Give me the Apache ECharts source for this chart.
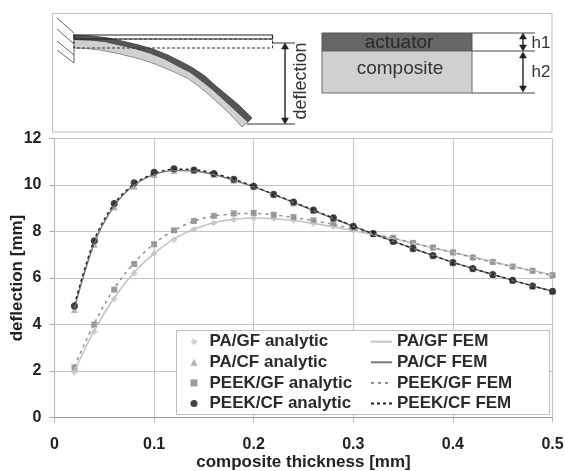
<!DOCTYPE html>
<html><head><meta charset="utf-8">
<style>html,body{margin:0;padding:0;background:#fff}#c{width:565px;height:471px}</style>
<script src="https://cdn.jsdelivr.net/npm/echarts@6/dist/echarts.min.js"></script>
</head><body><div id="c"></div>
<script>
const thickness = [0.02,0.04,0.06,0.08,0.10,0.12,0.14,0.16,0.18,0.20,0.22,0.24,0.26,0.28,0.30,0.32,0.34,0.36,0.38,0.40,0.42,0.44,0.46,0.48,0.50];
const paGfAnalytic   = [1.95,3.7,5.1,6.2,7.05,7.65,8.1,8.37,8.52,8.58,8.56,8.48,8.36,8.2,8.05,7.87,7.7,7.5,7.3,7.1,6.88,6.69,6.49,6.31,6.1];
const paCfAnalytic   = [4.65,7.45,9.05,9.95,10.45,10.62,10.62,10.45,10.2,9.92,9.58,9.23,8.9,8.55,8.2,7.9,7.57,7.26,6.96,6.66,6.4,6.14,5.89,5.65,5.42];
const peekGfAnalytic = [2.15,4.0,5.5,6.6,7.45,8.05,8.45,8.67,8.78,8.8,8.72,8.62,8.48,8.32,8.12,7.9,7.73,7.51,7.31,7.1,6.88,6.69,6.49,6.31,6.12];
const peekCfAnalytic = [4.8,7.6,9.2,10.1,10.55,10.7,10.65,10.5,10.25,9.95,9.6,9.27,8.92,8.59,8.23,7.91,7.58,7.27,6.97,6.67,6.41,6.15,5.9,5.66,5.43];
const paGfFem   = [2.0,3.75,5.15,6.25,7.05,7.68,8.1,8.38,8.52,8.58,8.55,8.47,8.35,8.2,8.03,7.87,7.7,7.5,7.3,7.1,6.9,6.7,6.5,6.32,6.12];
const paCfFem   = [4.7,7.5,9.1,10.0,10.45,10.62,10.6,10.45,10.2,9.92,9.6,9.25,8.9,8.56,8.22,7.9,7.58,7.27,6.97,6.67,6.41,6.15,5.9,5.66,5.43];
const peekGfFem = [2.2,4.05,5.55,6.65,7.48,8.05,8.45,8.66,8.76,8.78,8.72,8.6,8.47,8.3,8.1,7.9,7.72,7.5,7.3,7.1,6.88,6.68,6.49,6.3,6.1];
const peekCfFem = [4.85,7.65,9.2,10.05,10.5,10.68,10.66,10.5,10.25,9.95,9.6,9.27,8.92,8.58,8.23,7.9,7.58,7.27,6.97,6.67,6.41,6.15,5.9,5.66,5.43];
const pair = ys => ys.map((y,i)=>[thickness[i],y]);

const FONT = '"Liberation Sans", Arial, sans-serif';
const scatter = (name,ys,symbol,size,color)=>({name,type:'scatter',data:pair(ys),symbol,symbolSize:size,z:3,itemStyle:{color}});
const line = (name,ys,color,type,width)=>({name,type:'line',data:pair(ys),symbol:'none',showSymbol:false,smooth:0.3,z:4,
  itemStyle:{color},lineStyle:{color,type,width}});

const seriesList = [
  scatter('PA/GF analytic',paGfAnalytic,'diamond',7,'#c6c6c6'),
  scatter('PA/CF analytic',paCfAnalytic,'triangle',7,'#a0a0a0'),
  scatter('PEEK/GF analytic',peekGfAnalytic,'rect',6,'#858585'),
  scatter('PEEK/CF analytic',peekCfAnalytic,'circle',7,'#111111'),
  line('PA/GF FEM',paGfFem,'#c4c4c4','solid',1.6),
  line('PA/CF FEM',paCfFem,'#777777','solid',1.4),
  line('PEEK/GF FEM',peekGfFem,'#909090',[3,4],1.5),
  line('PEEK/CF FEM',peekCfFem,'#222222',[3,3],1.4)
];
const legendText = {fontFamily:FONT,fontWeight:'bold',fontSize:17,lineHeight:17,color:'#2a2a2a'};
const legendBase = {orient:'vertical',top:333.2,itemGap:3.6,z:8,padding:0,selectedMode:false};

const L = (x1,y1,x2,y2,stroke='#333',lineWidth=1,lineDash)=>({type:'line',silent:true,z:10,
  shape:{x1,y1,x2,y2},style:{stroke,lineWidth,lineDash}});
const poly = (points,fill,stroke,lineWidth=1)=>({type:'polygon',silent:true,z:10,shape:{points},style:{fill,stroke,lineWidth}});
const R = (x,y,width,height,fill,stroke,lineWidth=1,lineDash,z=10)=>({type:'rect',silent:true,z,shape:{x,y,width,height},style:{fill,stroke,lineWidth,lineDash}});
const T = (x,y,text,opts={})=>({type:'text',silent:true,z:11,x,y,rotation:opts.rotation||0,
  style:{text,fontFamily:FONT,fontSize:opts.size||19,fill:opts.fill||'#333',align:opts.align||'left',verticalAlign:'middle'}});
const head = (x,y,dir)=>poly([[x-3.5,y-dir*6],[x+3.5,y-dir*6],[x,y]],'#222','#222',0.5);
const arrow = (x,y1,y2)=>[L(x,y1+3,x,y2-3,'#222',1.4),head(x,y1,-1),head(x,y2,1)];

const top_ = [[74,35],[90,35.8],[107,37.7],[122,41],[138,44.8],[153,49],[168,55],[182,62],[193,68],[205,76],[216,86],[227,95],[240,106],[252,118]];
const mid_ = [[74,39.5],[90,40],[105,41.5],[120,45],[135,48.5],[150,53],[165,59],[178,66],[190,72],[202,81],[212,89],[222,98],[235,110],[248,122]];
const bot_ = [[74,48],[87,48.5],[100,50],[120,54],[140,59],[155,64],[172,71],[187,78],[197,85],[207,93],[217,102],[230,114],[242,127]];
const schematic = [
  R(52.5,13.5,499.5,118.5,'#fff','#bdbdbd',1),
  ...[[57,18,74,33],[57,29,74,44],[57,41,74,55],[57,50,74,63]].map(a=>L(a[0],a[1],a[2],a[3],'#666',1)),
  L(74,34,74,63,'#666',1),
  poly([...mid_,...bot_.slice().reverse()],'#d0d0d0','#777',0.8),
  poly([...top_,...mid_.slice().reverse()],'#555555','#444',0.8),
  R(74,35,198.5,4,'none','#222',1.2),
  R(74,39,198.5,9,'none','#333',1,[3,2]),
  L(272,43,295,43,'#333',1),
  L(247,124,295,124,'#333',1),
  ...arrow(285,43,124),
  T(301,81,'deflection',{rotation:Math.PI/2,align:'center',size:18}),
  R(322,33,150,18,'#666666','#555',1),
  R(322,51,150,42,'#d0d0d0','#666',1),
  L(472,33,535,33,'#444',1),L(472,51,535,51,'#444',1),L(472,93,535,93,'#444',1),
  ...arrow(523,33,51),...arrow(523,52,92),
  T(399,42.7,'actuator',{align:'center',fill:'#2a2a2a'}),
  T(400,69,'composite',{align:'center'}),
  T(531.5,43,'h1',{size:17}),T(531.5,72,'h2',{size:17})
];
const chart = echarts.init(document.getElementById('c'),null,{renderer:'canvas'});
chart.setOption({
  animation:false,backgroundColor:'#fff',
  grid:{left:54.5,right:12.5,top:138.5,bottom:53.5,outerBoundsMode:'none'},
  xAxis:{type:'value',min:0,max:0.5,interval:0.1,
    name:'composite thickness [mm]',nameLocation:'middle',nameGap:44.5,nameMoveOverlap:false,
    nameTextStyle:{fontFamily:FONT,fontWeight:'bold',fontSize:17,color:'#222',verticalAlign:'middle'},
    axisLine:{onZero:false,lineStyle:{color:'#999'}},
    axisTick:{show:true,length:5,lineStyle:{color:'#bbb'}},
    axisLabel:{margin:19,fontFamily:FONT,fontWeight:'bold',fontSize:16,color:'#222',showMaxLabel:true,showMinLabel:true},
    splitLine:{show:true,lineStyle:{color:'#c8c8c8',width:1.2}}},
  yAxis:{type:'value',min:0,max:12,interval:2,
    name:'deflection [mm]',nameLocation:'middle',nameGap:37.5,nameMoveOverlap:false,
    nameTextStyle:{fontFamily:FONT,fontWeight:'bold',fontSize:17,color:'#222',verticalAlign:'middle'},
    axisLine:{show:true,lineStyle:{color:'#bbb'}},
    axisTick:{show:true,length:5,lineStyle:{color:'#aaa'}},
    axisLabel:{margin:13,fontFamily:FONT,fontWeight:'bold',fontSize:16,color:'#222'},
    splitLine:{show:true,lineStyle:{color:'#c4c4c4',width:1.2}}},
  legend:[
    {...legendBase,left:190.5,itemWidth:7,itemHeight:7,textStyle:{...legendText,padding:[0,0,0,7]},data:seriesList.slice(0,4).map(s=>s.name)},
    {...legendBase,left:370,itemWidth:21,itemHeight:8,itemStyle:{opacity:0},textStyle:legendText,data:seriesList.slice(4).map(s=>s.name)}
  ],
  graphic:{elements:[R(176.5,330.5,373,84,'#fff','#bdbdbd',1,undefined,6),...schematic]},
  series:seriesList
});
</script></body></html>
